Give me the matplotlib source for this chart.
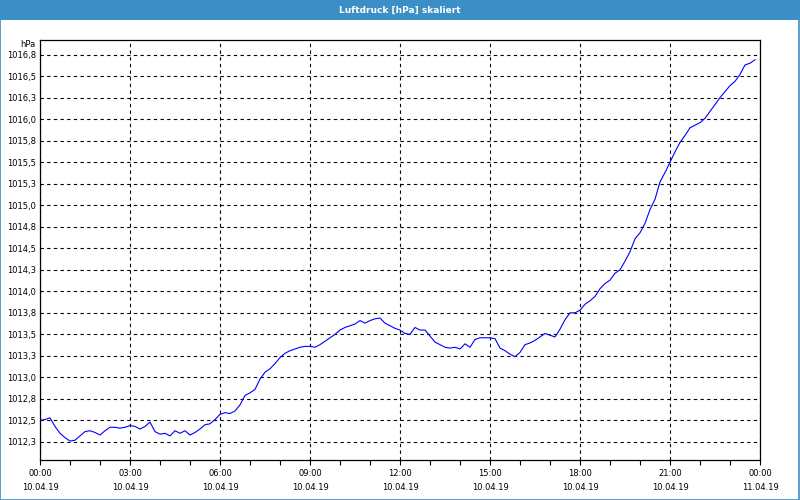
import matplotlib.pyplot as plt
from matplotlib.patches import Rectangle

# Luftdruck 10.04.19, minutes after midnight and hPa
minutes = list(range(0, 1440, 10))
pressure = [
    1012.50, 1012.51, 1012.53, 1012.43, 1012.35, 1012.30, 1012.26, 1012.27, 1012.32, 1012.37,
    1012.38, 1012.36, 1012.33, 1012.38, 1012.42, 1012.42, 1012.41, 1012.42, 1012.44, 1012.43,
    1012.40, 1012.43, 1012.48, 1012.37, 1012.34, 1012.35, 1012.32, 1012.38, 1012.35, 1012.38,
    1012.33, 1012.36, 1012.40, 1012.45, 1012.46, 1012.51, 1012.57, 1012.59, 1012.58, 1012.61,
    1012.68, 1012.79, 1012.82, 1012.86, 1012.98, 1013.06, 1013.10, 1013.16, 1013.23, 1013.28,
    1013.31, 1013.33, 1013.35, 1013.36, 1013.36, 1013.35, 1013.38, 1013.42, 1013.46, 1013.50,
    1013.55, 1013.58, 1013.60, 1013.62, 1013.66, 1013.63, 1013.66, 1013.68, 1013.69, 1013.63,
    1013.60, 1013.57, 1013.55, 1013.51, 1013.50, 1013.58, 1013.55, 1013.55, 1013.48, 1013.41,
    1013.38, 1013.35, 1013.34, 1013.35, 1013.33, 1013.39, 1013.35, 1013.44, 1013.46, 1013.46,
    1013.46, 1013.45, 1013.34, 1013.31, 1013.27, 1013.24, 1013.29, 1013.38, 1013.40, 1013.43,
    1013.47, 1013.51, 1013.49, 1013.47, 1013.56, 1013.67, 1013.75, 1013.75, 1013.78, 1013.85,
    1013.89, 1013.94, 1014.03, 1014.09, 1014.13, 1014.21, 1014.25, 1014.35, 1014.46, 1014.61,
    1014.68, 1014.79, 1014.95, 1015.07, 1015.27, 1015.38, 1015.50, 1015.62, 1015.73, 1015.81,
    1015.90, 1015.93, 1015.96, 1016.01, 1016.09, 1016.17, 1016.25, 1016.32, 1016.39, 1016.44,
    1016.52, 1016.63, 1016.65, 1016.69,
]

y_ticks = [1012.25 + 0.25 * i for i in range(19)]
y_labels = ["1012,3", "1012,5", "1012,8", "1013,0", "1013,3", "1013,5", "1013,8", "1014,0",
            "1014,3", "1014,5", "1014,8", "1015,0", "1015,3", "1015,5", "1015,8", "1016,0",
            "1016,3", "1016,5", "1016,8"]
x_ticks = list(range(0, 1441, 180))
x_labels = ["00:00\n10.04.19", "03:00\n10.04.19", "06:00\n10.04.19", "09:00\n10.04.19",
            "12:00\n10.04.19", "15:00\n10.04.19", "18:00\n10.04.19", "21:00\n10.04.19",
            "00:00\n11.04.19"]

bar_blue = "#3c8fc6"

fig = plt.figure(figsize=(8, 5), dpi=100, facecolor="white")
ax = fig.add_axes([0.05, 0.08, 0.9, 0.84])

# title bar and frame
fig.patches.append(Rectangle((0, 0.96), 1, 0.04, transform=fig.transFigure,
                             facecolor=bar_blue, edgecolor="none", zorder=0))
fig.patches.append(Rectangle((0.0006, 0.001), 0.9982, 0.997, transform=fig.transFigure,
                             facecolor="none", edgecolor=bar_blue, linewidth=1.2, zorder=0))
fig.text(0.5, 0.98, "Luftdruck [hPa] skaliert", color="white", fontsize=6.5,
         fontweight="bold", ha="center", va="center")

ax.plot(minutes, pressure, color="#0000ff", linewidth=0.8)

ax.set_xlim(0, 1440)
ax.set_ylim(1012.04, 1016.92)
ax.set_xticks(x_ticks)
ax.set_xticklabels(x_labels, fontsize=6, linespacing=1.75)
ax.set_xticks(range(0, 1441, 60), minor=True)
ax.set_yticks(y_ticks)
ax.set_yticklabels(y_labels, fontsize=6)
ax.tick_params(axis="x", which="both", direction="out", length=3.5, width=0.8, pad=3)
ax.tick_params(axis="y", length=0, pad=3)

ax.grid(True, color="black", linestyle=(0, (3, 3)), linewidth=0.8)
for s in ax.spines.values():
    s.set_linewidth(0.9)
    s.set_color("black")

ax.text(-0.006, 1.0 - 4 / 420, "hPa", transform=ax.transAxes, fontsize=6,
        ha="right", va="center")

fig.savefig("out.png", dpi=100, facecolor="white")
